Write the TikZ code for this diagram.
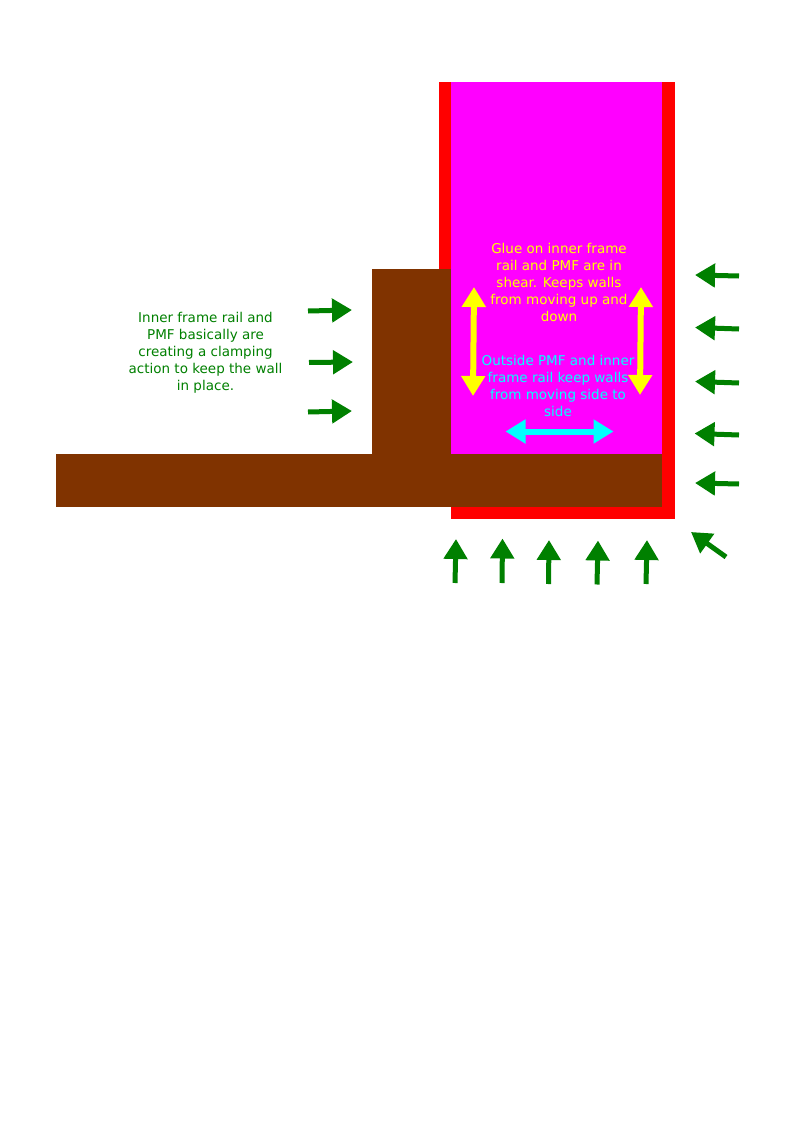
\documentclass[tikz,border=0pt]{standalone}
\usepackage{fontspec}
\setmainfont{DejaVu Sans}
\usetikzlibrary{arrows.meta}
\definecolor{rust}{RGB}{128,51,0}
\definecolor{dgreen}{RGB}{0,128,0}
\definecolor{wallred}{RGB}{255,0,0}
\definecolor{pmf}{RGB}{255,0,255}
\definecolor{shearyellow}{RGB}{255,255,0}
\definecolor{slidecyan}{RGB}{0,255,255}
\tikzset{
  x=1pt,y=-1pt,
  force/.style={draw=dgreen,line width=5pt,-{Triangle[length=20pt,width=23pt,fill=dgreen]}},
  shear/.style={draw=shearyellow,line width=6pt,{Triangle[length=20pt,width=23pt,fill=shearyellow]}-{Triangle[length=20pt,width=23pt,fill=shearyellow]}},
  slide/.style={draw=slidecyan,line width=6pt,{Triangle[length=20pt,width=23pt,fill=slidecyan]}-{Triangle[length=20pt,width=23pt,fill=slidecyan]}},
  note/.style={align=center,inner sep=0pt,font=\fontsize{13.5}{17}\selectfont},
}
\begin{document}
\begin{tikzpicture}
\useasboundingbox (0,0) rectangle (794,1123);
\fill[white] (0,0) rectangle (794,1123);
% walls
\fill[wallred] (439,82.5) rectangle (451,270);
\fill[wallred] (662,82.5) rectangle (674.5,519);
\fill[wallred] (451,507) rectangle (662,519);
\fill[pmf] (451,82.5) rectangle (662,454);
% rails
\fill[rust] (372,269) rectangle (451,454);
\fill[rust] (56,454) rectangle (662,507);
% labels
\node[note,text=dgreen] (clamp) at (205.5,352.5) {Inner frame rail and\\PMF basically are\\creating a clamping\\action to keep the wall\\in place.};
\node[note,text=shearyellow] (glue) at (559,282.5) {Glue on inner frame\\rail and PMF are in\\shear. Keeps walls\\from moving up and\\down};
\node[note,text=slidecyan] (outside) at (558,386) {Outside PMF and inner\\frame rail keep walls\\from moving side to\\side};
% free arrow ends
\foreach \n/\ax/\ay/\bx/\by in {
 l1/308/311/352/310, l2/309/362.5/353/362, l3/308/412/352/411,
 r1/739/276/695/275, r2/739/329/695/327.5, r3/739/383/695/381.5, r4/739/435/694.5/433.5, r5/739/484/695/483,
 b1/455/583/456/539, b2/502/583/502.5/538.5, b3/548.5/584/549/540, b4/597/584.5/598/540.5, b5/646/584/647/540,
 d1/726/557/691/532}{
  \coordinate (\n a) at (\ax,\ay);
  \coordinate (\n b) at (\bx,\by);
  \draw[force] (\n a) -- (\n b);
}
\coordinate (sl1) at (474,287);
\coordinate (sl2) at (473,396);
\coordinate (sr1) at (641,287);
\coordinate (sr2) at (640,395);
\coordinate (c1) at (505.5,431.5);
\coordinate (c2) at (613.5,431.5);
\draw[shear] (sl1) -- (sl2);
\draw[shear] (sr1) -- (sr2);
\draw[slide] (c1) -- (c2);
\end{tikzpicture}
\end{document}
